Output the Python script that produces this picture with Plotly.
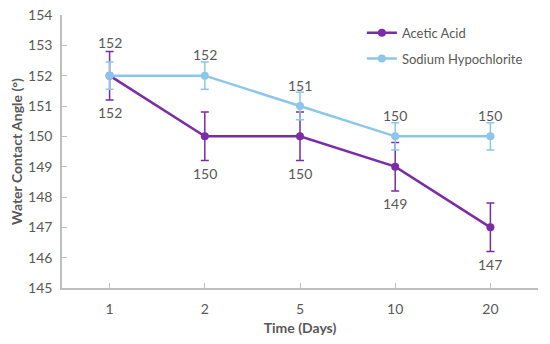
import plotly.graph_objects as go

days = ["1", "2", "5", "10", "20"]
acetic = [152, 150, 150, 149, 147]
acetic_err = [0.8, 0.8, 0.8, 0.8, 0.8]
sodium = [152, 152, 151, 150, 150]
sodium_err = [0.45, 0.45, 0.45, 0.45, 0.45]
y_ticks = [145, 146, 147, 148, 149, 150, 151, 152, 153, 154]

PURPLE = "#7B2CA6"
BLUE = "#8DC6EC"
GRAY = "#595959"
AXIS = "#BFBFBF"
FONT = "Lato, 'Open Sans', sans-serif"

fig = go.Figure()
fig.add_trace(go.Scatter(
    x=days, y=acetic, name="Acetic Acid", mode="lines+markers", legendgroup="a",
    line=dict(color=PURPLE, width=2.5), marker=dict(color=PURPLE, size=8),
    error_y=dict(type="data", array=acetic_err, visible=True, color=PURPLE, thickness=1.5, width=4),
))
fig.add_trace(go.Scatter(
    x=days, y=sodium, name="Sodium Hypochlorite", mode="lines+markers", legendgroup="b",
    line=dict(color=BLUE, width=2.5), marker=dict(color=BLUE, size=8),
    error_y=dict(type="data", array=sodium_err, visible=True, color=BLUE, thickness=1.5, width=4),
))

annotations = []
for i, v in enumerate(acetic):
    annotations.append(dict(x=i, y=v, xref="x", yref="y", text=str(v), showarrow=False, yshift=-37,
                            font=dict(size=14, color=GRAY, family=FONT)))
for i, v in enumerate(sodium):
    shift = 33 if i == 0 else 21
    annotations.append(dict(x=i, y=v, xref="x", yref="y", text=str(v), showarrow=False, yshift=shift,
                            font=dict(size=14, color=GRAY, family=FONT)))

fig.update_layout(
    width=550, height=344,
    margin=dict(l=62, r=12, t=15, b=56),
    paper_bgcolor="white", plot_bgcolor="white",
    font=dict(family=FONT, color=GRAY, size=14),
    showlegend=True,
    legend=dict(x=0.63, y=0.99, xanchor="left", yanchor="top",
                font=dict(size=13, color=GRAY), bgcolor="rgba(0,0,0,0)",
                itemwidth=30, tracegroupgap=6),
    annotations=annotations,
    xaxis=dict(
        type="category", range=[-0.5, 4.5], automargin=False,
        showline=True, linecolor=AXIS, linewidth=1.5,
        ticks="inside", tickcolor=AXIS, ticklen=5,
        showgrid=False, zeroline=False,
        ticklabelstandoff=7,
        tickfont=dict(size=14, color=GRAY),
        title=dict(text="<b>Time (Days)</b>", font=dict(size=14, color=GRAY), standoff=8),
    ),
    yaxis=dict(
        range=[145, 154], tickvals=y_ticks, automargin=False,
        showline=True, linecolor=AXIS, linewidth=1.5,
        ticks="inside", tickcolor=AXIS, ticklen=5,
        showgrid=False, zeroline=False,
        ticklabelstandoff=5, ticklabeloverflow="allow",
        tickfont=dict(size=14, color=GRAY),
        title=dict(text="<b>Water Contact Angle (°)</b>", font=dict(size=14, color=GRAY), standoff=2),
    ),
)

fig.write_html("out.html", config={"displayModeBar": False},
               post_script="document.body.style.margin='0';")
